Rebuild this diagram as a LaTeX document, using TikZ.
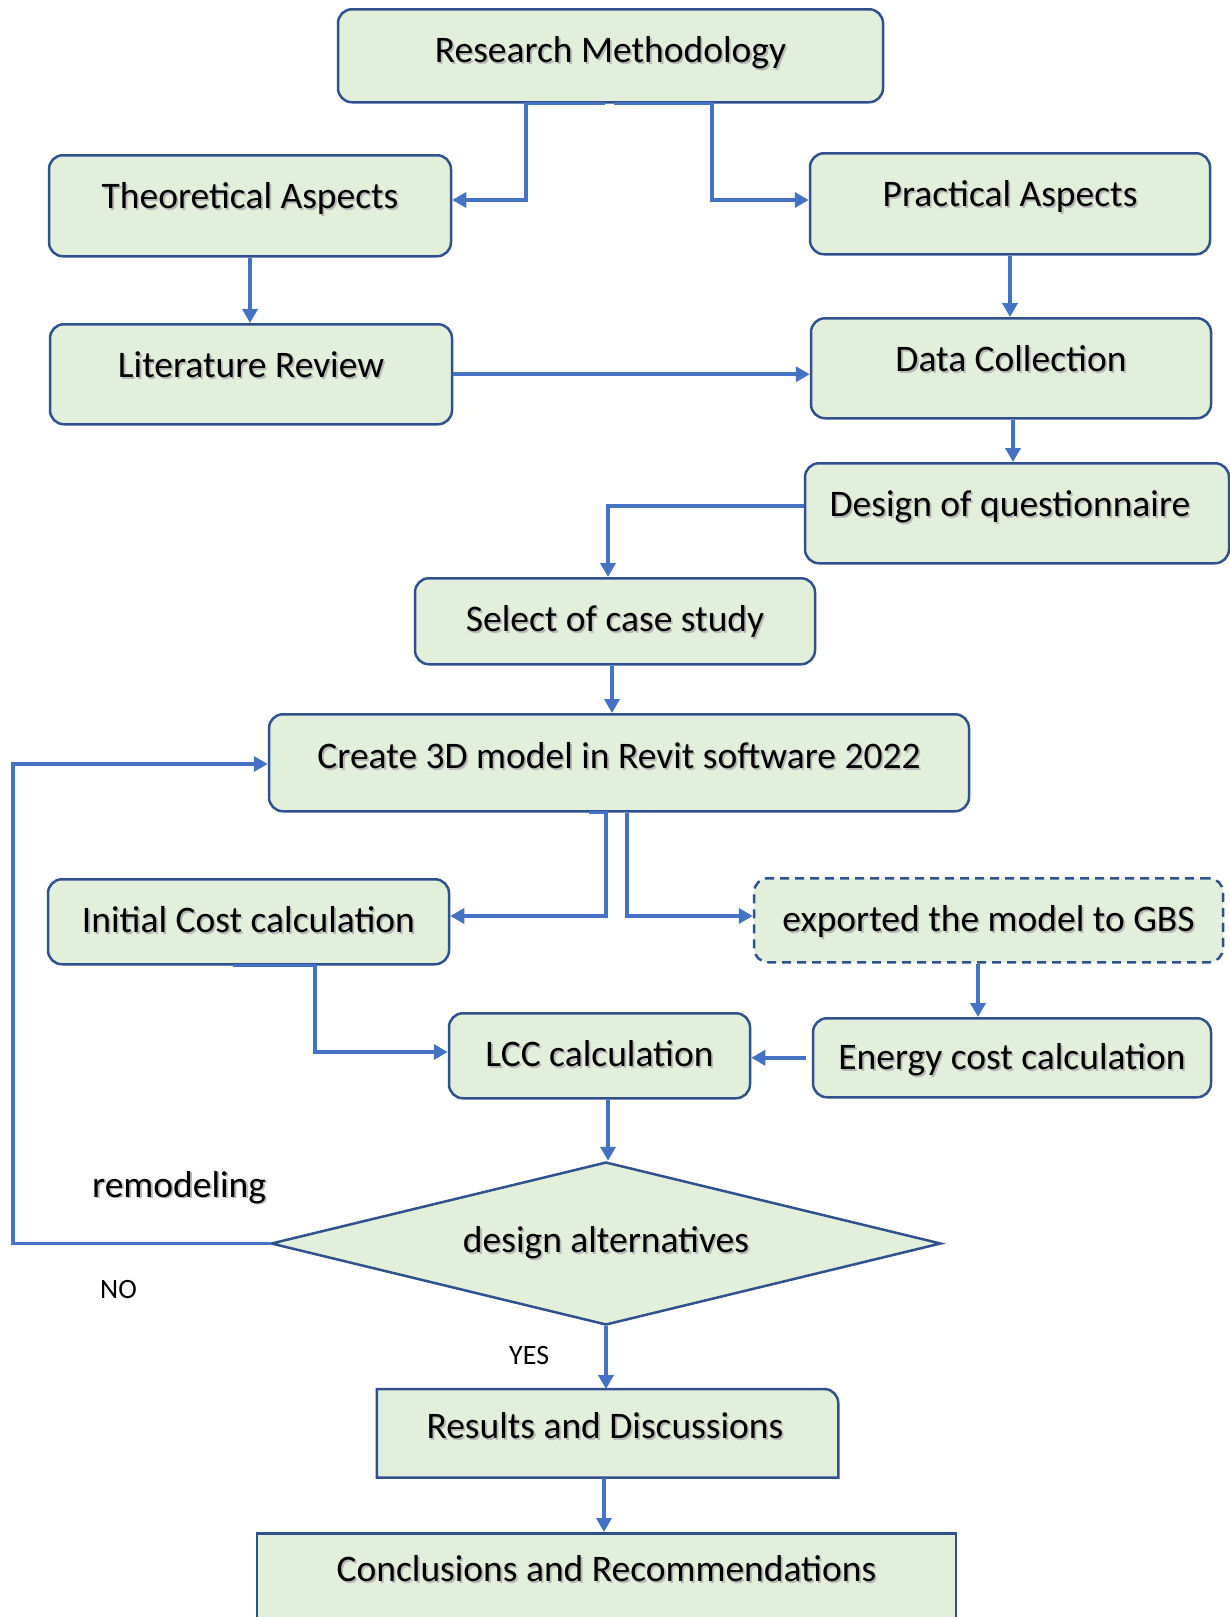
\documentclass[tikz,border=0pt]{standalone}
\usepackage{fontspec}
\setmainfont{Carlito}
\usetikzlibrary{shapes.geometric,arrows.meta}
\definecolor{boxfill}{HTML}{E2EFDA}
\definecolor{boxline}{HTML}{2F528F}
\definecolor{connblue}{HTML}{4472C4}
\newcommand\shtxt[1]{\rlap{\kern1.8pt\raisebox{-1.8pt}{\textcolor{black!28}{#1}}}#1}
\begin{document}
\begin{tikzpicture}[x=1pt,y=-1pt,
  mainfont/.style={font=\fontsize{37.5}{41}\selectfont},
  box/.style={draw=boxline, fill=boxfill, line width=2.5pt, rounded corners=14pt,
    anchor=north, inner xsep=0pt, inner ysep=0pt, text height=53pt, mainfont},
  decision/.style={diamond, draw=boxline, fill=boxfill, line width=2.5pt, aspect=4,
    inner sep=0pt, minimum width=670pt, minimum height=163pt, mainfont},
  flow/.style={draw=connblue, line width=3.8pt, -{Triangle[length=14pt,width=15pt]}},
  small/.style={font=\fontsize{28}{32}\selectfont, anchor=base west, inner sep=0pt}]
\fill[white] (0,0) rectangle (1230,1617);
\useasboundingbox (0,0) rectangle (1230,1617);

% boxes
\node[box, minimum width=545pt, text depth=40pt] (RM) at (610.5,8) {\shtxt{Research Methodology}};
\node[box, minimum width=402pt, text depth=48pt] (Theo) at (250,154) {\shtxt{Theoretical Aspects}};
\node[box, minimum width=400pt, text depth=48pt] (Prac) at (1010,152) {\shtxt{Practical Aspects}};
\node[box, minimum width=402pt, text depth=47pt] (Lit) at (251,323) {\shtxt{Literature Review}};
\node[box, minimum width=400pt, text depth=47pt] (Data) at (1011,317) {\shtxt{Data Collection}};
\node[box, minimum width=424pt, text depth=47pt] (Design) at (1017,462) {\shtxt{Design of questionnaire}\hspace*{14pt}};
\node[box, minimum width=400pt, text depth=33pt] (Select) at (615,577) {\shtxt{Select of case study}};
\node[box, minimum width=700pt, text depth=43pt, text height=54pt] (Create) at (619,713) {\shtxt{Create 3D model in Revit software 2022}};
\node[box, minimum width=401pt, text depth=32pt] (Init) at (248.5,878) {\shtxt{Initial Cost calculation}};
\node[box, minimum width=469pt, text depth=31pt, dash pattern=on 9pt off 6pt] (GBS) at (988.5,877) {\shtxt{exported the model to GBS}};
\node[box, minimum width=301pt, text depth=32pt] (LCC) at (599.5,1012) {\shtxt{LCC calculation}};
\node[box, minimum width=398pt, text depth=28pt, text height=51pt] (Energy) at (1012,1017) {\shtxt{Energy cost calculation}};
\node[decision] (Dia) at (606,1243.5) {\shtxt{design alternatives}};
\node[box, draw=none, fill=none, minimum width=459pt, text height=48pt, text depth=38pt] (Res) at (607.5,1389) {};
\fill[boxfill] (Res.south west) -- (Res.north west) -- ([xshift=-14pt]Res.north east)
  arc[start angle=-90, end angle=0, radius=14] -- (Res.south east) -- cycle;
\draw[boxline, line width=2.5pt] (Res.south west) -- (Res.north west) -- ([xshift=-14pt]Res.north east)
  arc[start angle=-90, end angle=0, radius=14] -- (Res.south east) -- cycle;
\node[box, fill=none, draw=none, minimum width=459pt, text height=48pt, text depth=38pt] at (605,1389) {\shtxt{Results and Discussions}};
\node[box, rounded corners=0pt, minimum width=699pt, text height=48pt, text depth=100pt] (Conc) at (606.5,1532) {\shtxt{Conclusions and Recommendations}};

% labels
\node[anchor=base west, inner sep=0pt, mainfont] (remod) at (92,1197) {\shtxt{remodeling}};
\node[small] (no) at (100,1298) {NO};
\node[small] (yes) at (509,1364) {YES};

% connectors
\coordinate (t1) at (526,200);
\coordinate (t2) at (712,200);
\draw[flow] ([xshift=-6pt]RM.south) -| (t1) -- (t1 -| Theo.east);
\draw[flow] ([xshift=3pt]RM.south) -| (t2) -- (t2 -| Prac.west);
\draw[flow] (Theo.south) -- (Theo.south |- Lit.north);
\draw[flow] (Prac.south) -- (Prac.south |- Data.north);
\draw[flow] (Lit.east) -- (Lit.east -| Data.west);
\coordinate (d1) at (1013,0);
\draw[flow] (Data.south -| d1) -- (Design.north -| d1);
\coordinate (s1) at (608,506);
\draw[flow] (s1 -| Design.west) -- (s1) -- (s1 |- Select.north);
\coordinate (s2) at (612,0);
\draw[flow] (Select.south -| s2) -- (Create.north -| s2);
\coordinate (c1) at (606,916);
\coordinate (c2) at (627,916);
\draw[flow] ([xshift=-30pt]Create.south) -| (c1) -- (c1 -| Init.east);
\draw[flow] (Create.south -| c2) -- (c2) -- (c2 -| GBS.west);
\coordinate (g1) at (978,0);
\draw[flow] (GBS.south -| g1) -- (Energy.north -| g1);
\draw[flow, shorten <=6pt] (Energy.west) -- (Energy.west -| LCC.east);
\coordinate (c3) at (315,1052);
\draw[flow] ([xshift=-16pt]Init.south) -| (c3) -- (c3 -| LCC.west);
\coordinate (l1) at (608,0);
\draw[flow] (LCC.south -| l1) -- (Dia.north -| l1);
\draw[flow] (Dia.south) -- (Dia.south |- Res.north);
\coordinate (r1) at (604,0);
\draw[flow] (Res.south -| r1) -- (Conc.north -| r1);
\coordinate (c4) at (13,764);
\draw[flow] (Dia.west) -| (c4) -- (c4 -| Create.west);
\end{tikzpicture}
\end{document}
